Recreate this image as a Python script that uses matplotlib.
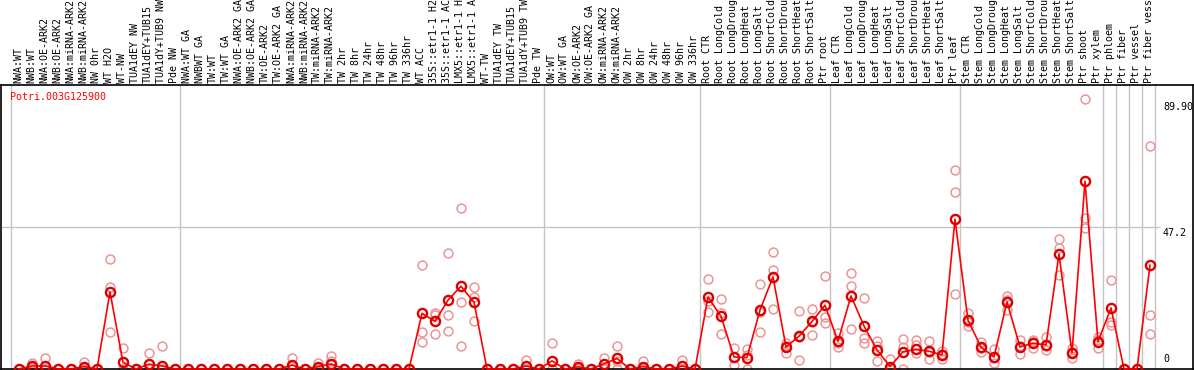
import numpy as np
import matplotlib
matplotlib.use("Agg")
import matplotlib.pyplot as plt

# ======= Sample names (column labels) =======
samples = [
    "NWA:WT", "NWB:WT", "NWA:OE-ARK2", "NWB:OE-ARK2", "NWA:miRNA-ARK2",
    "NWB:miRNA-ARK2", "NW 0hr", "WT H2O", "WT-NW", "TUA1dEY NW",
    "TUA1dEY+TUB15", "TUA1dY+TUB9 NW", "Pde NW",
    "NWA:WT GA", "NWBWT GA", "TW:WT", "TW:WT GA", "NWA:OE-ARK2 GA",
    "NWB:OE-ARK2 GA", "TW:OE-ARK2", "TW:OE-ARK2 GA", "NWA:miRNA-ARK2",
    "NWB:miRNA-ARK2", "TW:miRNA-ARK2", "TW:miRNA-ARK2", "TW 2hr", "TW 8hr",
    "TW 24hr", "TW 48hr", "TW 96hr", "TW 336hr", "WT ACC",
    "35S::etr1-1 H2O", "35S::etr1-1 ACC", "LMX5::etr1-1 H2O",
    "LMX5::etr1-1 ACC", "WT-TW", "TUA1dEY TW", "TUA1dEY+TUB15",
    "TUA1dY+TUB9 TW", "Pde TW",
    "OW:WT", "OW:WT GA", "OW:OE-ARK2", "OW:OE-ARK2 GA", "OW:miRNA-ARK2",
    "OW:miRNA-ARK2", "OW 2hr", "OW 8hr", "OW 24hr", "OW 48hr", "OW 96hr",
    "OW 336hr",
    "Root CTR", "Root LongCold", "Root LongDrought", "Root LongHeat",
    "Root LongSalt", "Root ShortCold", "Root ShortDrought", "Root ShortHeat",
    "Root ShortSalt", "Ptr root",
    "Leaf CTR", "Leaf LongCold", "Leaf LongDrought", "Leaf LongHeat",
    "Leaf LongSalt", "Leaf ShortCold", "Leaf ShortDrought", "Leaf ShortHeat",
    "Leaf ShortSalt", "Ptr leaf",
    "Stem CTR", "Stem LongCold", "Stem LongDrought", "Stem LongHeat",
    "Stem LongSalt", "Stem ShortCold", "Stem ShortDrought", "Stem ShortHeat",
    "Stem ShortSalt", "Ptr shoot", "Ptr xylem",
    "Ptr phloem", "Ptr fiber", "Ptr vessel", "Ptr fiber vessel",
]

# group boundaries (separator before these column indices)
group_breaks = [0, 13, 41, 53, 63, 73, 84, 85, 86, 87, 88]

gene = "Potri.003G125900"

# ======= Expression values =======
mean_expr = [
    0, 1.0, 1.0, 0, 0, 0.8, 0, 25.6, 2.2, 0, 1.6, 1.0, 0,
    0, 0, 0, 0, 0, 0, 0, 0, 1.3, 0, 0.8, 1.7, 0, 0, 0, 0, 0, 0,
    18.5, 15.8, 22.9, 27.5, 22.2, 0, 0, 0, 1.0, 0,
    2.7, 0, 0.7, 0, 1.7, 3.5, 0, 0.8, 0, 0, 1.0, 0,
    23.9, 17.5, 4.0, 3.8, 19.6, 30.6, 7.3, 10.9, 15.8, 21.2,
    9.2, 24.3, 14.3, 6.3, 0.8, 5.7, 6.5, 5.9, 4.7, 49.8,
    16.2, 7.3, 4.0, 22.3, 7.3, 8.6, 8.0, 38.2, 5.4, 62.4, 9.1,
    20.3, 0, 0, 34.5,
]
rep1 = [
    0, 2.0, 3.6, 0, 0, 2.4, 0, 36.5, 6.9, 0, 5.2, 7.6, 0,
    0, 0, 0, 0, 0, 0, 0, 0, 3.6, 0, 2.0, 4.3, 0, 0, 0, 0, 0, 0,
    34.6, 18.5, 38.5, 53.4, 27.2, 0, 0, 0, 3.0, 0,
    8.6, 0, 1.6, 0, 3.8, 7.8, 0, 2.5, 0, 0, 3.0, 0,
    30.0, 23.2, 6.9, 6.6, 28.3, 38.8, 8.5, 19.3, 19.9, 30.9,
    12.1, 31.8, 23.6, 9.3, 3.2, 9.9, 9.5, 9.3, 6.0, 66.1,
    18.7, 9.0, 6.5, 24.3, 9.6, 9.8, 10.5, 43.2, 6.9, 89.9, 10.7,
    29.6, 0, 0, 74.1,
]
rep2 = [
    0, 0.5, 0, 0, 0, 0, 0, 27.4, 0, 0, 0, 0, 0,
    0, 0, 0, 0, 0, 0, 0, 0, 1.0, 0, 0, 2.5, 0, 0, 0, 0, 0, 0,
    12.2, 17.8, 17.8, 22.2, 24.0, 0, 0, 0, 0, 0,
    0, 0, 0, 0, 0.8, 2.5, 0, 0, 0, 0, 0, 0,
    22.5, 18.5, 4.0, 4.5, 19.0, 32.9, 7.5, 10.5, 15.5, 17.4,
    8.5, 27.6, 10.2, 7.6, 0, 7.4, 8.0, 5.5, 5.0, 58.7,
    15.5, 7.0, 3.5, 23.0, 7.5, 9.0, 7.5, 40.2, 5.5, 50.1, 9.5,
    15.7, 0, 0, 18.0,
]
rep3 = [
    0, 0.3, 0, 0, 0, 0, 0, 12.2, 0, 0, 0, 0, 0,
    0, 0, 0, 0, 0, 0, 0, 0, 0, 0, 0, 0, 0, 0, 0, 0, 0, 0,
    9.1, 11.5, 12.6, 7.6, 15.8, 0, 0, 0, 0, 0,
    0, 0, 0, 0, 0, 0, 0, 0, 0, 0, 0, 0,
    18.8, 11.5, 1.2, 0, 12.3, 19.8, 5.4, 2.9, 11.2, 15.2,
    7.4, 13.2, 8.5, 2.7, 0, 0, 5.2, 3.2, 3.3, 24.8,
    14.3, 5.8, 2.0, 19.5, 5.0, 7.0, 6.3, 31.1, 3.5, 46.8, 6.9,
    14.6, 0, 0, 11.6,
]

# ======= Figure layout (pixel based) =======
W, H = 1194, 370
fig = plt.figure(figsize=(W / 100, H / 100), dpi=100)
top_px, bot_px = 85, 369
ax = fig.add_axes([1 / W, 1 - bot_px / H, (W - 2) / W, (bot_px - top_px) / H])

ymax = max(rep1 + rep2 + rep3 + mean_expr) * 1.05
x = np.arange(len(samples))
ax.set_xlim((1 - 19) / 13, (W - 1 - 19) / 13)
ax.set_ylim(0, ymax)
ax.set_xticks([])
ax.set_yticks([])
for s in ax.spines.values():
    s.set_color("black")
    s.set_linewidth(1.2)

mono = "DejaVu Sans Mono"
fs = 7.2
top_frac = (H - top_px) / (bot_px - top_px)

# separators through label area and plot
seps = [k - 8 / 13 for k in group_breaks]
ax.vlines(seps, 0, top_frac, transform=ax.get_xaxis_transform(),
          colors="#c4c4c4", lw=1, clip_on=False, zorder=0)
ax.hlines(ymax / 2, ax.get_xlim()[0], 87.8, colors="#c4c4c4", lw=1, zorder=0)

# column labels (long ones run off the top, as in the original)
for i, name in enumerate(samples):
    ax.text(i - 0.08, 1.006, name, rotation=90, ha="center", va="bottom",
            transform=ax.get_xaxis_transform(), family=mono, fontsize=fs,
            clip_on=False)

# replicates
reps = np.array([rep1, rep2, rep3])
for r in reps:
    ax.plot(x, r, ls="none", marker="o", ms=6.4, mfc="none",
            mec="#ee9494", mew=1.1, zorder=2, clip_on=False)

# mean line
ax.plot(x, mean_expr, color="#ff0000", lw=1.2, marker="o", ms=6.6,
        mfc="none", mec="#dd0000", mew=1.7, zorder=3, clip_on=False)

# gene label
ax.text(-0.7, (bot_px - 92) / (bot_px - top_px) * ymax, gene, color="#ff0000",
        family=mono, fontsize=fs, ha="left", va="top")

# right value labels
xr = (1163 - 19) / 13
vmax = max(rep1 + rep2 + rep3)
ax.text(xr, vmax - 1.0, f"{vmax:.2f}", family=mono, fontsize=fs, ha="left", va="top")
ax.text(xr, ymax / 2 - 0.3, f"{ymax / 2:.1f}", family=mono, fontsize=fs, ha="left", va="top")
ax.text(xr, 1.5, "0", family=mono, fontsize=fs, ha="left", va="bottom")

fig.savefig("out.png", dpi=100)
